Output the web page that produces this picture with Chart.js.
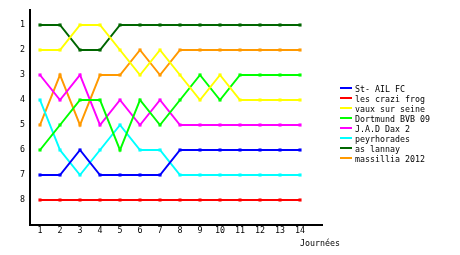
<!DOCTYPE html>
<html><head><meta charset="utf-8">
<script src="https://cdn.jsdelivr.net/npm/chart.js@4/dist/chart.umd.min.js"></script>
<style>
body{margin:0;background:#fff;}
#wrap{position:relative;width:460px;height:255px;}
#legend{position:absolute;left:340px;top:84px;font:8.3px "DejaVu Sans Mono",monospace;color:#000;}
.li{height:10px;line-height:10px;white-space:nowrap;position:relative;}
.sw{display:inline-block;width:12px;height:2px;vertical-align:top;margin-top:3px;margin-right:3px;}
#xt{position:absolute;left:300px;top:238px;font:8.3px "DejaVu Sans Mono",monospace;color:#000;}
</style></head>
<body><div id="wrap"><canvas id="c" width="460" height="255"></canvas><div id="legend"></div><div id="xt">Journées</div></div>
<script>
const journees = [1,2,3,4,5,6,7,8,9,10,11,12,13,14];
const rankTicks = [1,2,3,4,5,6,7,8];
const teams = ["St- AIL FC","les crazi frog","vaux sur seine","Dortmund BVB 09","J.A.D Dax 2","peyrhorades","as lannay","massillia 2012"];
const stAil     = [7,7,6,7,7,7,7,6,6,6,6,6,6,6];
const crazi     = [8,8,8,8,8,8,8,8,8,8,8,8,8,8];
const vaux      = [2,2,1,1,2,3,2,3,4,3,4,4,4,4];
const dortmund  = [6,5,4,4,6,4,5,4,3,4,3,3,3,3];
const jadDax    = [3,4,3,5,4,5,4,5,5,5,5,5,5,5];
const peyr      = [4,6,7,6,5,6,6,7,7,7,7,7,7,7];
const lannay    = [1,1,2,2,1,1,1,1,1,1,1,1,1,1];
const massillia = [5,3,5,3,3,2,3,2,2,2,2,2,2,2];
const colors = ["#0000ff","#ff0000","#ffff00","#00ff00","#ff00ff","#00ffff","#006600","#ff9900"];
const series = [stAil,crazi,vaux,dortmund,jadDax,peyr,lannay,massillia];

const datasets = series.map((s,i)=>({
  label: teams[i],
  data: s.map((v,j)=>({x:journees[j], y:v})),
  borderColor: colors[i], backgroundColor: colors[i],
  borderWidth: 2, pointStyle:'rect', pointRadius:2.2, pointBorderWidth:0,
  tension:0, fill:false
}));

const font = {family:'"DejaVu Sans Mono", monospace', size:8.3};
new Chart(document.getElementById('c'), {
  type:'line',
  data:{datasets},
  options:{
    responsive:false, animation:false,
    layout:{padding:{left:0,top:10,right:138,bottom:0}},
    plugins:{legend:{display:false}, tooltip:{enabled:false}},
    scales:{
      x:{type:'linear', min:0.5, max:15.1,
         afterBuildTicks: sc => { sc.ticks = journees.map(v=>({value:v})); },
         afterFit: sc => { sc.height = 30; },
         grid:{display:false, tickLength:0},
         border:{display:true,color:'#000',width:2},
         ticks:{color:'#000',font,padding:1,maxRotation:0,autoSkip:false}},
      y:{type:'linear', reverse:true, min:0.4, max:9,
         afterBuildTicks: sc => { sc.ticks = rankTicks.map(v=>({value:v})); },
         afterFit: sc => { sc.width = 30; },
         grid:{display:false, tickLength:0},
         border:{display:true,color:'#000',width:2},
         ticks:{color:'#000',font,padding:5}}
    }
  }
});
const lg = document.getElementById('legend');
teams.forEach((t,i)=>{
  const d=document.createElement('div'); d.className='li';
  d.innerHTML='<span class="sw" style="background:'+colors[i]+'"></span>'+t;
  lg.appendChild(d);
});
</script></body></html>
